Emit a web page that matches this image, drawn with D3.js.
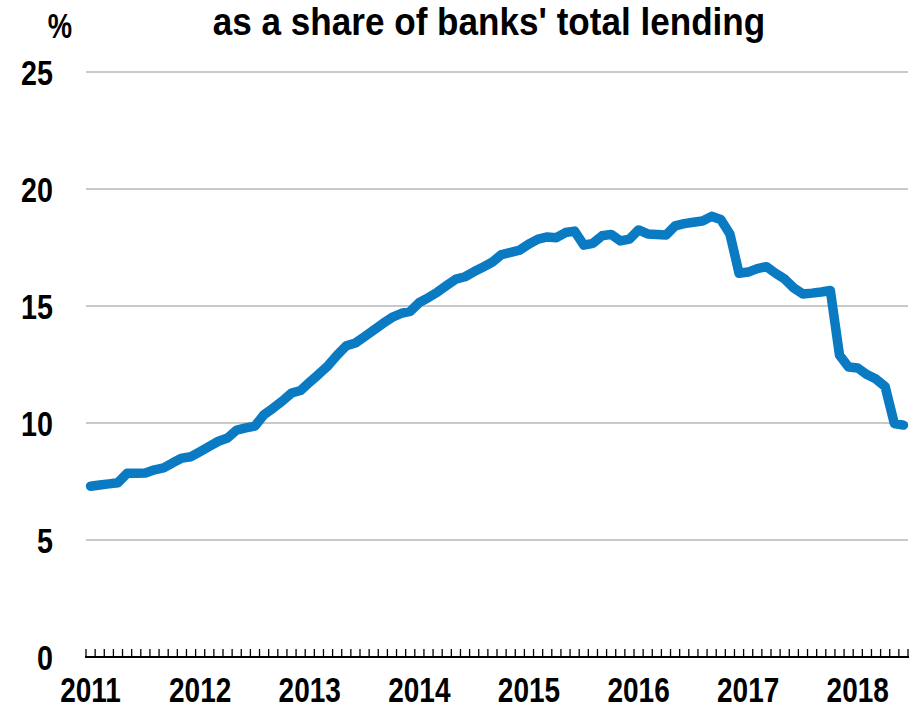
<!DOCTYPE html>
<html>
<head>
<meta charset="utf-8">
<script src="https://cdn.jsdelivr.net/npm/d3@7"></script>
<style>
  html, body { margin: 0; padding: 0; background: #fff; }
  text { font-family: "Liberation Sans Narrow", "Arial Narrow", "Liberation Sans", Arial, sans-serif; font-weight: bold; fill: #000; }
</style>
</head>
<body>
<svg id="chart" width="918" height="709"></svg>
<script>
// ---- Data ----
const title = "as a share of banks' total lending";
const unitLabel = "%";
const startYear = 2011;
const yearLabels = ["2011", "2012", "2013", "2014", "2015", "2016", "2017", "2018"];
const yTicks = [0, 5, 10, 15, 20, 25];
// Monthly values, Jan 2011 – Jun 2018
const values = [
  7.30, 7.35, 7.40, 7.45, 7.85, 7.85, 7.86, 8.00, 8.08, 8.30, 8.50, 8.56,   // 2011
  8.78, 9.00, 9.22, 9.36, 9.70, 9.79, 9.87, 10.36, 10.64, 10.94, 11.28, 11.39, // 2012
  11.75, 12.09, 12.45, 12.90, 13.30, 13.42, 13.69, 13.97, 14.25, 14.51, 14.68, 14.77, // 2013
  15.15, 15.36, 15.60, 15.88, 16.15, 16.25, 16.47, 16.67, 16.88, 17.20, 17.29, 17.39, // 2014
  17.65, 17.86, 17.95, 17.92, 18.14, 18.20, 17.60, 17.68, 18.00, 18.06, 17.78, 17.86, // 2015
  18.25, 18.08, 18.06, 18.03, 18.42, 18.52, 18.58, 18.63, 18.83, 18.70, 18.08, 16.40, // 2016
  16.45, 16.60, 16.68, 16.40, 16.15, 15.77, 15.51, 15.55, 15.60, 15.66, 12.90, 12.39, // 2017
  12.35, 12.07, 11.88, 11.55, 9.98, 9.91                                               // 2018
];
const months = values.map((v, i) => `${startYear + Math.floor(i / 12)}-${String(i % 12 + 1).padStart(2, "0")}`);

// ---- Layout ----
const svg = d3.select("#chart");
const mLeft = 86, mRight = 908, mTop = 72, mBottom = 657;

const x = d3.scaleBand().domain(months).range([mLeft, mRight]).padding(0);
const y = d3.scaleLinear().domain([0, 25]).range([mBottom, mTop]);

// gridlines
svg.append("g")
  .selectAll("line")
  .data(yTicks.filter(d => d > 0))
  .join("line")
  .attr("x1", mLeft).attr("x2", mRight)
  .attr("y1", d => y(d)).attr("y2", d => y(d))
  .attr("stroke", "#c9c9c9").attr("stroke-width", 2);

// y labels (condensed bold)
const yAxis = d3.axisLeft(y).tickValues(yTicks).tickSize(0).tickPadding(0);
const gy = svg.append("g").attr("transform", "translate(53,0)").call(yAxis);
gy.select(".domain").remove();
gy.attr("font-family", null).attr("font-size", null);
gy.selectAll("text")
  .attr("font-size", 35)
  .attr("x", 0)
  .attr("dy", "0.36em")
  .attr("fill", "#000")
  .attr("transform", "scale(0.82,1)");

// x axis: domain line + monthly tick marks (at band boundaries)
const boundaries = months.map(m => x(m)).concat([mRight]);
svg.append("line")
  .attr("x1", mLeft - 1).attr("x2", mRight + 1)
  .attr("y1", mBottom).attr("y2", mBottom)
  .attr("stroke", "#000").attr("stroke-width", 2);
svg.append("g")
  .selectAll("line")
  .data(boundaries)
  .join("line")
  .attr("x1", d => d).attr("x2", d => d)
  .attr("y1", mBottom).attr("y2", mBottom - 8)
  .attr("stroke", "#000").attr("stroke-width", 1.3);

// year labels centered on January band
svg.append("g")
  .selectAll("text")
  .data(yearLabels)
  .join("text")
  .attr("transform", (d, i) => `translate(${x(months[i * 12]) + x.bandwidth() / 2},701.5) scale(0.8,1)`)
  .attr("text-anchor", "middle")
  .attr("font-size", 35)
  .text(d => d);

// line
const line = d3.line()
  .x((d, i) => x(months[i]) + x.bandwidth() / 2)
  .y(d => y(d));
svg.append("path")
  .datum(values)
  .attr("d", line)
  .attr("fill", "none")
  .attr("stroke", "#0a7bc2")
  .attr("stroke-width", 9.5)
  .attr("stroke-linejoin", "round")
  .attr("stroke-linecap", "round");

// title and unit
svg.append("text")
  .attr("transform", "translate(489,35) scale(0.9,1)")
  .attr("text-anchor", "middle")
  .attr("font-size", 39)
  .text(title);
svg.append("text")
  .attr("transform", "translate(60,38) scale(0.76,1)")
  .attr("text-anchor", "middle")
  .attr("font-size", 36)
  .text(unitLabel);
</script>
</body>
</html>
